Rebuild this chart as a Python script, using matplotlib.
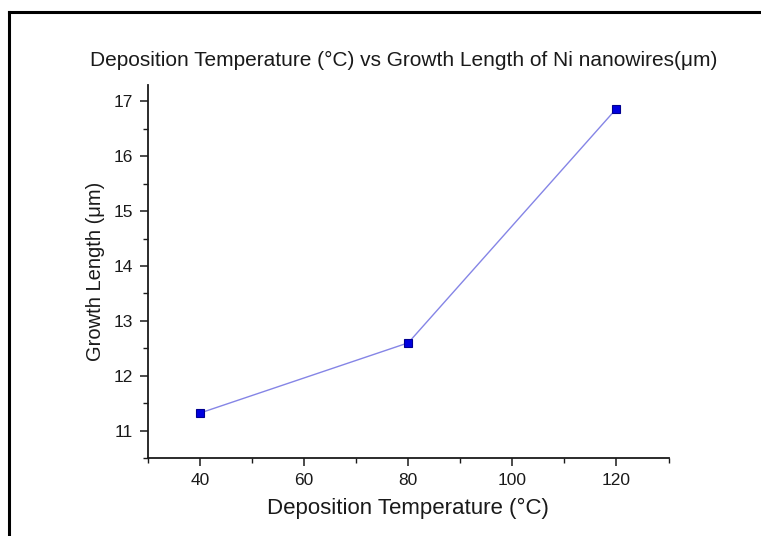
import matplotlib
matplotlib.use("Agg")
import matplotlib.pyplot as plt
from matplotlib.lines import Line2D
from matplotlib.ticker import MultipleLocator

# data
temperature = [40, 80, 120]          # deposition temperature (°C)
growth_length = [11.32, 12.6, 16.87]  # growth length (um)

plt.rcParams['font.family'] = ['Liberation Sans', 'DejaVu Sans']

fig = plt.figure(figsize=(7.61, 5.36), dpi=100)
ax = fig.add_axes([0.1945, 0.1455, 0.684, 0.696])

ax.plot(temperature, growth_length, color='#8585e6', lw=1.0,
        marker='s', ms=6, mfc='#0000e0', mec='#000090', mew=0.8)

ax.set_xlim(30, 130)
ax.set_ylim(10.5, 17.3)
ax.xaxis.set_major_locator(MultipleLocator(20))
ax.xaxis.set_minor_locator(MultipleLocator(10))
ax.yaxis.set_major_locator(MultipleLocator(1))
ax.yaxis.set_minor_locator(MultipleLocator(0.5))

for s in ['top', 'right']:
    ax.spines[s].set_visible(False)
for s in ['left', 'bottom']:
    ax.spines[s].set_linewidth(1.3)
    ax.spines[s].set_color('#1a1a1a')
ax.tick_params(which='major', direction='out', length=6, width=1.1, labelsize=12.5,
               colors='#1a1a1a', pad=5)
ax.tick_params(which='minor', direction='out', length=3.5, width=1.0, colors='#1a1a1a')

ax.set_xlabel('Deposition Temperature (°C)', fontsize=16, color='#1a1a1a', labelpad=7)
ax.set_ylabel('Growth Length (μm)', fontsize=14.5, color='#1a1a1a', labelpad=6)
fig.text(0.53, 0.888, 'Deposition Temperature (°C) vs Growth Length of Ni nanowires(μm)',
         ha='center', va='center', fontsize=15, color='#1a1a1a')

# frame lines at top and left of the figure
fig.add_artist(Line2D([9 / 761, 1], [1 - 12 / 536, 1 - 12 / 536], color='black', lw=2.2,
                      transform=fig.transFigure))
fig.add_artist(Line2D([9 / 761, 9 / 761], [0, 1 - 12 / 536], color='black', lw=2.2,
                      transform=fig.transFigure))

fig.savefig('out.png', dpi=100)
